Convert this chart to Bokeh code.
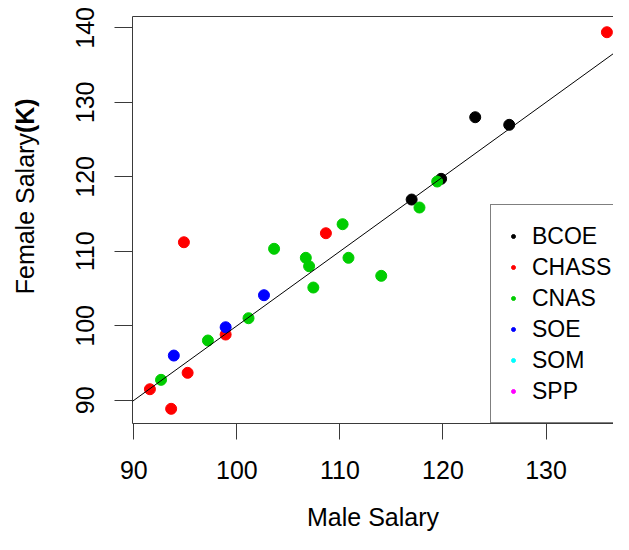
import math
from bokeh.plotting import figure
from bokeh.layouts import row
from bokeh.models import (ColumnDataSource, Range1d, FixedTicker, LinearAxis, Slope,
                          Legend, LegendItem)
from bokeh.core.properties import value
from bokeh.embed import file_html
from bokeh.resources import INLINE

# ---- data ----
departments = ["BCOE", "CHASS", "CNAS", "SOE", "SOM", "SPP"]
dept_colors = ["black", "red", "#00CD00", "blue", "cyan", "magenta"]

dept = (["BCOE"] * 4 + ["CHASS"] * 7 + ["CNAS"] * 12 + ["SOE"] * 3)
male_salary = [116.96, 119.82, 123.13, 126.43,
               135.91, 94.86, 108.64, 98.91, 95.22, 91.56, 93.62,
               119.44, 117.72, 103.61, 106.69, 107.01, 110.26, 110.83, 114.01, 107.42, 101.13, 97.19, 92.64,
               102.63, 98.91, 93.88]
female_salary = [116.95, 119.73, 128.0, 126.98,
                 139.41, 111.22, 112.43, 98.83, 93.69, 91.49, 88.86,
                 119.37, 115.88, 110.34, 109.13, 108.0, 113.64, 109.13, 106.71, 105.14, 101.02, 98.03, 92.75,
                 104.11, 99.81, 96.01]

x_ticks = [90, 100, 110, 120, 130]
y_ticks = [90, 100, 110, 120, 130, 140]
x_title = "Male Salary"
y_title = "Female Salary"
y_title_unit = "(K)"

FONT = "Liberation Sans"
AXIS_COLOR = "#3a3a3a"
H = 534
LW = 60  # width of the y-title strip

# ---- main plot ----
p = figure(width=613 - LW, height=H, output_backend="svg", toolbar_location=None,
           x_range=Range1d(89.87, 136.55), y_range=Range1d(86.89, 141.52),
           min_border_left=132 - LW, min_border_right=0, min_border_top=16, min_border_bottom=111,
           x_axis_type=None, y_axis_type=None)
p.grid.visible = False
p.outline_line_color = None
p.background_fill_color = "white"
p.border_fill_color = "white"

xaxis = LinearAxis(ticker=FixedTicker(ticks=x_ticks), axis_label=x_title)
yaxis = LinearAxis(ticker=FixedTicker(ticks=y_ticks))
for ax in (xaxis, yaxis):
    ax.axis_line_color = AXIS_COLOR
    ax.major_tick_line_color = AXIS_COLOR
    ax.minor_tick_line_color = None
    ax.major_tick_in = 0
    ax.major_label_text_font = FONT
    ax.major_label_text_font_size = "25px"
    ax.major_label_text_color = "black"
xaxis.major_tick_out = 16
xaxis.major_label_standoff = 21
xaxis.axis_label_standoff = 21
xaxis.axis_label_text_font = FONT
xaxis.axis_label_text_font_size = "25px"
xaxis.axis_label_text_font_style = "normal"
xaxis.axis_label_text_color = "black"
yaxis.major_tick_out = 18
yaxis.major_label_standoff = 20
yaxis.major_label_orientation = "vertical"
p.add_layout(xaxis, "below")
p.add_layout(yaxis, "left")

top_axis = LinearAxis(ticker=FixedTicker(ticks=[]), axis_line_color=AXIS_COLOR,
                      major_tick_line_color=None, minor_tick_line_color=None,
                      major_label_text_font_size="0px", major_label_standoff=0)
p.add_layout(top_axis, "above")

# reference line y = x
p.add_layout(Slope(gradient=1, y_intercept=0, line_color="black", line_width=1))

# points, one renderer per department
items = []
for name, col in zip(departments, dept_colors):
    xs = [m for m, d in zip(male_salary, dept) if d == name]
    ys = [f for f, d in zip(female_salary, dept) if d == name]
    if not xs:
        xs, ys = [float("nan")], [float("nan")]
    src = ColumnDataSource(dict(x=xs, y=ys))
    r = p.scatter("x", "y", source=src, size=11, marker="circle",
                  fill_color=col, line_color=col)
    items.append(LegendItem(label=name, renderers=[r]))

legend = Legend(items=items, location=(358, 0), margin=0, padding=17,
                spacing=3, glyph_width=10, glyph_height=28, label_height=28,
                label_standoff=14, border_line_color="black", border_line_width=1,
                background_fill_color="white", background_fill_alpha=1.0,
                label_text_font=FONT, label_text_font_size="23px", label_text_color="black")
p.add_layout(legend, "center")

# ---- y title strip ----
t = figure(width=LW, height=H, output_backend="svg", toolbar_location=None,
           x_range=Range1d(0, LW), y_range=Range1d(0, H),
           min_border=0, x_axis_type=None, y_axis_type=None)
t.grid.visible = False
t.outline_line_color = None
t.background_fill_color = "white"
t.border_fill_color = "white"
t.text(x=[24], y=[H - 153], text=[y_title], angle=math.pi / 2,
       text_align="right", text_baseline="middle",
       text_font=value(FONT), text_font_size="25px", text_color="black")
t.text(x=[24], y=[H - 153], text=[y_title_unit], angle=math.pi / 2,
       text_align="left", text_baseline="middle",
       text_font=value(FONT), text_font_size="25px", text_font_style="bold",
       text_color="black")

layout = row(t, p, spacing=0)
open("out.html", "w").write(file_html(layout, INLINE))
